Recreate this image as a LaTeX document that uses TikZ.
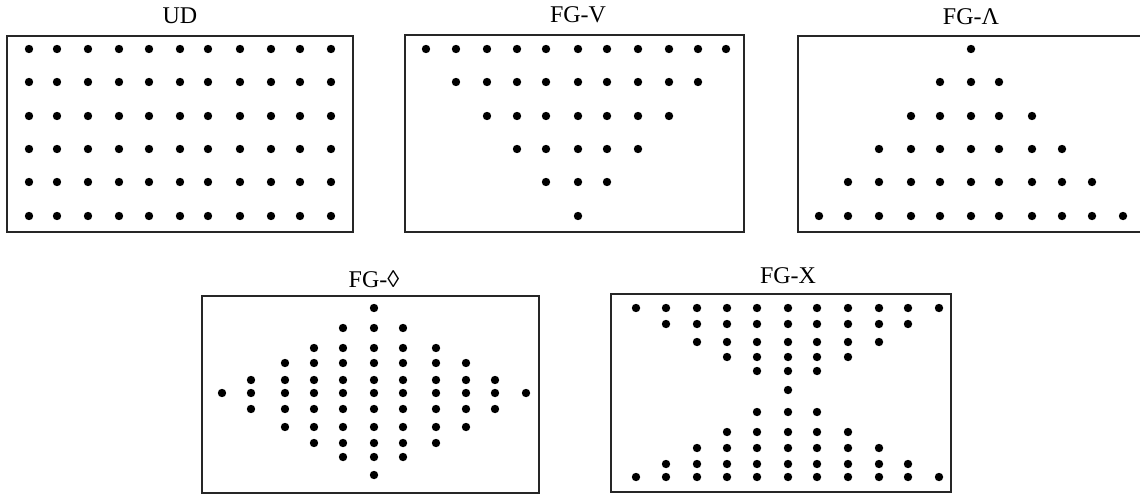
\documentclass[tikz,border=0pt]{standalone}
\usepackage{fontspec}
\setmainfont{Liberation Serif}
\begin{document}
\begin{tikzpicture}[x=1pt,y=-1pt,
  panel/.style={draw=black!85,line width=1.2pt},
  ttl/.style={anchor=base,inner sep=0pt,font=\fontsize{24}{27}\selectfont},
  dotf/.style={fill=black}]
\useasboundingbox (0,0) rectangle (1140,495);
\clip (0,0) rectangle (1140,495);
% boxes
\draw[panel] (7,36) rectangle (353,232);
\draw[panel] (405,35) rectangle (744,232);
\draw[panel] (798,36) rectangle (1160,232);
\draw[panel] (202,296) rectangle (539,493);
\draw[panel] (611,294) rectangle (951,492);
% titles
\node[ttl] (tUD) at (180,24) {UD};
\node[ttl] (tV) at (578,23) {FG-V};
\node[ttl] (tL) at (971,25) {FG-Λ};
\node[ttl] (tD) at (374,287) {FG-◊};
\node[ttl] (tX) at (788,283) {FG-X};
% UD
\def\UX{{29,57,88,119,149,180,208,240,271,300,331}}
\def\RY{{49,82,116,149,182,216}}
\foreach \i in {0,...,5}{
  \foreach \j in {0,...,10}{
    \pgfmathsetmacro\px{\UX[\j]}\pgfmathsetmacro\py{\RY[\i]}
    \fill[dotf] (\px,\py) circle (4.2pt);
  }
}
% FG-V
\def\VX{{426,456,487,517,546,578,607,638,669,698,726}}
\foreach \i in {0,...,5}{
  \pgfmathtruncatemacro\a{\i}\pgfmathtruncatemacro\b{10-\i}
  \foreach \j in {\a,...,\b}{
    \pgfmathsetmacro\px{\VX[\j]}\pgfmathsetmacro\py{\RY[\i]}
    \fill[dotf] (\px,\py) circle (4.2pt);
  }
}
% FG-Lambda
\def\LX{{819,848,879,911,940,971,999,1032,1062,1092,1123}}
\foreach \i in {0,...,5}{
  \pgfmathtruncatemacro\a{5-\i}\pgfmathtruncatemacro\b{5+\i}
  \foreach \j in {\a,...,\b}{
    \pgfmathsetmacro\px{\LX[\j]}\pgfmathsetmacro\py{\RY[\i]}
    \fill[dotf] (\px,\py) circle (4.2pt);
  }
}
% FG-diamond
\def\DX{{222,251,285,314,343,374,403,436,466,495,526}}
\def\DY{{308,328,348,363,380,393,409,427,443,457,475}}
\foreach \j in {0,...,10}{
  \pgfmathtruncatemacro\h{5-abs(\j-5)}
  \pgfmathtruncatemacro\a{5-\h}\pgfmathtruncatemacro\b{5+\h}
  \foreach \i in {\a,...,\b}{
    \pgfmathsetmacro\px{\DX[\j]}\pgfmathsetmacro\py{\DY[\i]}
    \fill[dotf] (\px,\py) circle (4.2pt);
  }
}
% FG-X
\def\XX{{636,666,697,727,757,788,817,848,879,908,939}}
\def\XY{{308,324,342,357,371,390,412,432,448,464,477}}
\foreach \i in {0,...,10}{
  \pgfmathtruncatemacro\h{abs(\i-5)}
  \pgfmathtruncatemacro\a{5-\h}\pgfmathtruncatemacro\b{5+\h}
  \foreach \j in {\a,...,\b}{
    \pgfmathsetmacro\px{\XX[\j]}\pgfmathsetmacro\py{\XY[\i]}
    \fill[dotf] (\px,\py) circle (4.2pt);
  }
}
\end{tikzpicture}
\end{document}
